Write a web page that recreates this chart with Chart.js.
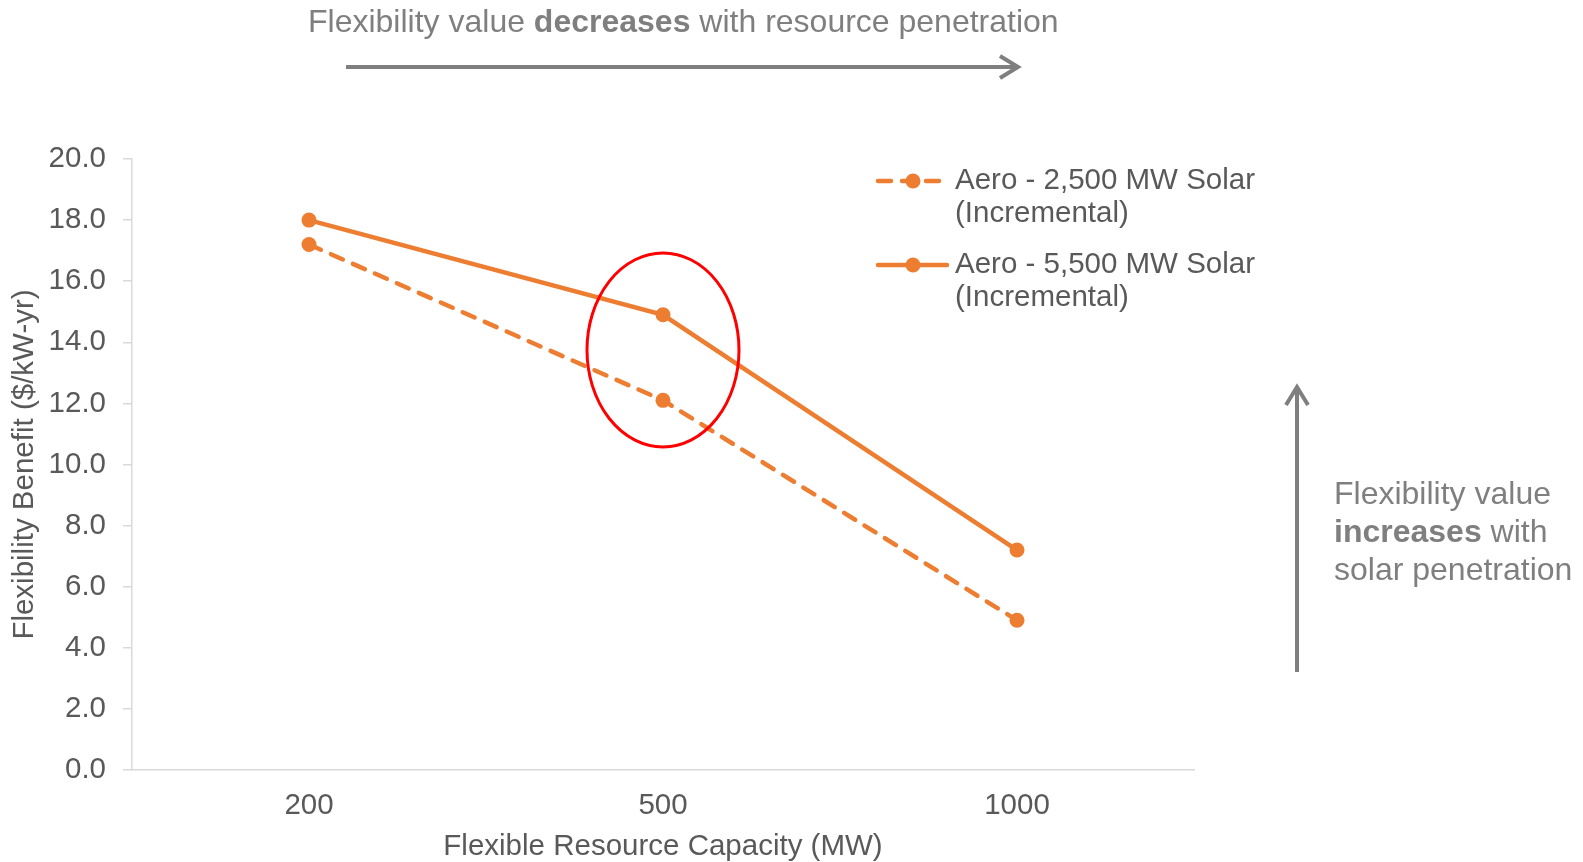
<!DOCTYPE html>
<html>
<head>
<meta charset="utf-8">
<script src="https://cdn.jsdelivr.net/npm/chart.js@4.4.0/dist/chart.umd.min.js"></script>
<style>
html, body {margin: 0; padding: 0; background: #fff;}
#wrap {width: 1583px; height: 862px; position: relative;}
</style>
</head>
<body>
<div id="wrap"><canvas id="chart"></canvas></div>
<script>
const capacities = ['200', '500', '1000'];
const solar2500 = [17.2, 12.1, 4.9];
const solar5500 = [18.0, 14.9, 7.2];
const seriesNames = [
    ['Aero - 2,500 MW Solar', '(Incremental)'],
    ['Aero - 5,500 MW Solar', '(Incremental)']
];
const yMin = 0, yMax = 20, yStep = 2;

const FONT = '"Liberation Sans", Arial, sans-serif';
const orange = '#ED7D31';
const axisGray = '#d9d9d9';
const textGray = '#595959';
const noteGray = '#7f7f7f';

function font(size, bold) {
    return (bold ? 'bold ' : '') + size + 'px ' + FONT;
}

// draws text made of plain / bold pieces, left aligned
function richText(c, parts, x, y, size) {
    c.textBaseline = 'middle';
    c.textAlign = 'left';
    for (const p of parts) {
        c.font = font(size, p[1]);
        c.fillText(p[0], x, y);
        x += c.measureText(p[0]).width;
    }
}

function arrow(c, x1, y1, x2, y2) {
    const ang = Math.atan2(y2 - y1, x2 - x1);
    const back = 18, side = 11;
    c.beginPath();
    c.moveTo(x1, y1);
    c.lineTo(x2 - Math.cos(ang) * 2, y2 - Math.sin(ang) * 2);
    c.stroke();
    c.beginPath();
    c.moveTo(x2 - back * Math.cos(ang) + side * Math.sin(ang), y2 - back * Math.sin(ang) - side * Math.cos(ang));
    c.lineTo(x2, y2);
    c.lineTo(x2 - back * Math.cos(ang) - side * Math.sin(ang), y2 - back * Math.sin(ang) + side * Math.cos(ang));
    c.stroke();
}

const notes = {
    id: 'notes',
    afterDatasetsDraw(chart) {
        const c = chart.ctx;
        const xs = chart.scales.x, ys = chart.scales.y;
        c.save();
        // red ring round the 500 MW points
        c.strokeStyle = '#ff0000';
        c.lineWidth = 3;
        c.beginPath();
        c.ellipse(xs.getPixelForValue(1), ys.getPixelForValue((solar2500[1] + solar5500[1]) / 2 + 0.25), 76, 97, 0, 0, Math.PI * 2);
        c.stroke();
        c.restore();
    },
    afterDraw(chart) {
        const c = chart.ctx;
        c.save();
        c.fillStyle = noteGray;
        richText(c, [['Flexibility value ', false], ['decreases', true], [' with resource penetration', false]], 308, 23, 32);
        richText(c, [['Flexibility value', false]], 1334, 495, 32);
        richText(c, [['increases', true], [' with', false]], 1334, 533, 32);
        richText(c, [['solar penetration', false]], 1334, 571, 32);

        c.strokeStyle = noteGray;
        c.lineWidth = 4;
        c.lineJoin = 'miter';
        arrow(c, 346, 67, 1018, 67);
        arrow(c, 1297, 672, 1297, 387);

        // legend
        const rows = [181, 265];
        chart.data.datasets.forEach(function (ds, i) {
            const y = rows[i];
            c.strokeStyle = ds.borderColor;
            c.lineWidth = ds.borderWidth;
            c.lineCap = 'round';
            c.setLineDash(ds.borderDash || []);
            c.beginPath();
            c.moveTo(878, y);
            c.lineTo(947, y);
            c.stroke();
            c.setLineDash([]);
            c.fillStyle = ds.borderColor;
            c.beginPath();
            c.arc(913, y, ds.pointRadius, 0, Math.PI * 2);
            c.fill();
            c.fillStyle = textGray;
            c.font = font(29.5, false);
            c.textBaseline = 'middle';
            c.textAlign = 'left';
            ds.label.forEach(function (line, k) {
                c.fillText(line, 955, y + k * 33);
            });
        });
        c.restore();
    }
};

const mainChart = new Chart(document.getElementById('chart'), {
    type: 'line',
    data: {
        labels: capacities,
        datasets: [
            {
                label: seriesNames[0],
                data: solar2500,
                borderColor: orange,
                backgroundColor: orange,
                borderWidth: 4.5,
                borderDash: [13, 11],
                borderCapStyle: 'round',
                pointRadius: 7.5,
                pointBorderWidth: 0,
                tension: 0
            },
            {
                label: seriesNames[1],
                data: solar5500,
                borderColor: orange,
                backgroundColor: orange,
                borderWidth: 4.5,
                pointRadius: 7.5,
                pointBorderWidth: 0,
                tension: 0
            }
        ]
    },
    options: {
        responsive: true,
        maintainAspectRatio: false,
        animation: false,
        layout: {padding: {top: 159, right: 389, left: 0, bottom: 0}},
        plugins: {
            legend: {display: false},
            tooltip: {enabled: false}
        },
        scales: {
            x: {
                offset: true,
                afterFit: function (s) { s.height = 92; },
                grid: {display: false, drawTicks: false},
                border: {display: true, color: axisGray, width: 1.5},
                ticks: {color: textGray, font: {family: FONT, size: 29.5}, padding: 18, maxRotation: 0},
                title: {
                    display: true,
                    text: 'Flexible Resource Capacity (MW)',
                    color: textGray,
                    font: {family: FONT, size: 29.5, lineHeight: 1.0},
                    padding: {top: 0, bottom: 0}
                }
            },
            y: {
                min: yMin,
                max: yMax,
                afterFit: function (s) { s.width = 132; },
                grid: {display: true, drawOnChartArea: false, drawTicks: true, tickLength: 9, color: axisGray, lineWidth: 1.5},
                border: {display: true, color: axisGray, width: 1.5},
                ticks: {
                    stepSize: yStep,
                    color: textGray,
                    font: {family: FONT, size: 29.5},
                    padding: 17,
                    callback: function (v) { return v.toFixed(1); }
                },
                title: {
                    display: true,
                    text: 'Flexibility Benefit ($/kW-yr)',
                    color: textGray,
                    font: {family: FONT, size: 29.5, lineHeight: 1.1},
                    padding: {top: 9, bottom: 0}
                }
            }
        }
    },
    plugins: [notes]
});
</script>
</body>
</html>
